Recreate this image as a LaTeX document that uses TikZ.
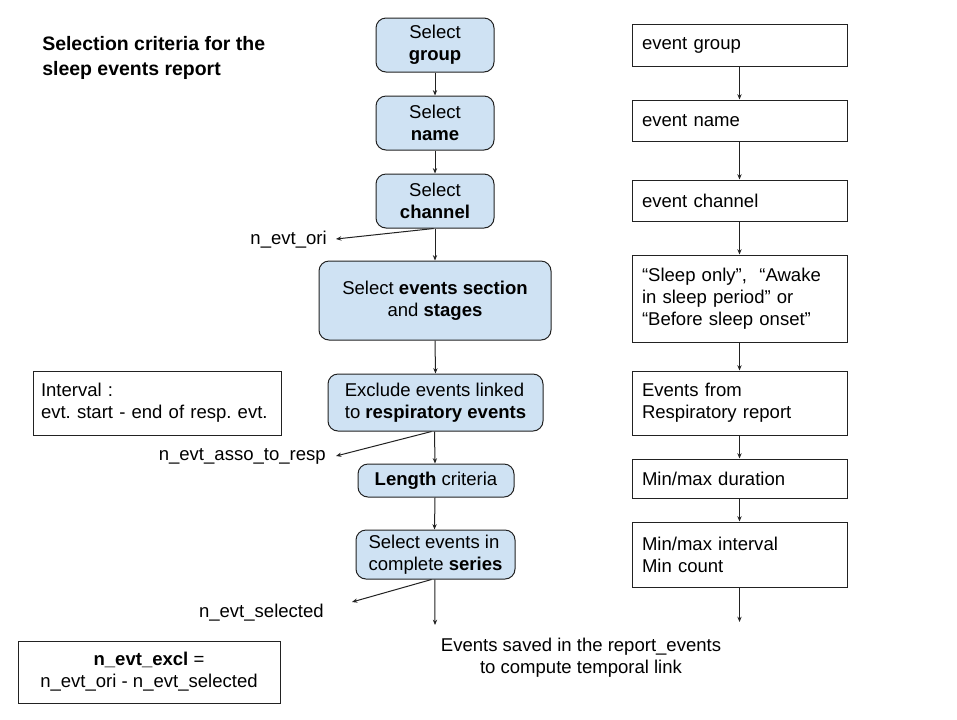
\documentclass[tikz,border=0pt]{standalone}
\usepackage{fontspec}
\setmainfont{Liberation Sans}
\usetikzlibrary{arrows.meta}
\frenchspacing
\definecolor{boxblue}{HTML}{CFE2F3}
\definecolor{lineclr}{HTML}{222222}
\tikzset{
  txt/.style={font=\fontsize{13.9}{16.5}\selectfont, text=black},
  bluebox/.style={txt, draw=lineclr, line width=0.75pt, fill=boxblue, rounded corners=7.5pt, align=center, inner sep=0pt},
  plainbox/.style={txt, draw=lineclr, line width=0.75pt, fill=white, align=left, inner xsep=7.5pt, inner ysep=0pt, text width=146.25pt, minimum width=161.25pt},
  leftbox/.style={txt, draw=lineclr, line width=0.75pt, fill=white, inner sep=0pt},
  arr/.style={draw=lineclr, line width=0.75pt, -{Stealth[length=4pt,width=3.2pt]}},
  lbl/.style={txt, inner sep=0pt}
}
\begin{document}
\begin{tikzpicture}[x=0.75pt,y=-0.75pt]
\useasboundingbox[fill=white] (0,0) rectangle (957,719);
% title
\node[lbl, anchor=west, align=left, font=\fontsize{14.6}{18.75}\selectfont\bfseries] (title) at (42,57.5) {Selection criteria for the\\sleep events report};
% center column
\node[bluebox, minimum width=88.5pt, minimum height=40.5pt] (g) at (435,45) {Select\\\textbf{group}};
\node[bluebox, minimum width=88.5pt, minimum height=40.5pt] (n) at (435,123) {Select\\\textbf{name}};
\node[bluebox, minimum width=88.5pt, minimum height=40.5pt] (c) at (435,201) {Select\\\textbf{channel}};
\node[bluebox, minimum width=174pt, minimum height=59.25pt] (s) at (435,300.5) {Select \textbf{events section}\\and \textbf{stages}};
\node[bluebox, minimum width=161.25pt, minimum height=42.75pt, align=left] (e) at (435.5,402.5) {Exclude events linked\\to \textbf{respiratory events}};
\node[bluebox, minimum width=117pt, minimum height=24.75pt] (l) at (436,480.5) {\textbf{Length} criteria};
\node[bluebox, minimum width=119.25pt, minimum height=36.75pt, align=left] (r) at (435.5,554.5) {Select events in\\complete \textbf{series}};
\coordinate (end) at (435,625);
\node[lbl, align=center] (saved) at (581,658) {Events saved in the report\_events\\to compute temporal link};
% center arrows
\draw[arr] (g.south) -- (n.north);
\draw[arr] (n.south) -- (c.north);
\draw[arr] (c.south) -- (s.north);
\draw[arr] (s.south) -- (e.north);
\draw[arr] ([xshift=-0.75pt]e.south) -- ([xshift=-0.75pt]l.north);
\draw[arr] ([xshift=-0.75pt]l.south) -- ([xshift=-0.75pt]r.north);
\draw[arr] ([xshift=-0.5pt]r.south) -- (end);
% side labels
\node[lbl, anchor=east] (ori) at (327,240) {n\_evt\_ori};
\node[lbl, anchor=east] (asso) at (326,456) {n\_evt\_asso\_to\_resp};
\node[lbl, anchor=east] (sel) at (324,613) {n\_evt\_selected};
\coordinate (oriT) at (336,239);
\coordinate (assoT) at (336,456);
\coordinate (selT) at (352,602);
\draw[arr] ([xshift=-1pt]c.south) -- (oriT);
\draw[arr] ([xshift=-3pt]e.south) -- (assoT);
\draw[arr] ([xshift=-3pt]r.south) -- (selT);
% left boxes
\node[leftbox, minimum width=186pt, minimum height=48pt, align=left, text width=174pt, inner xsep=6pt] (iv) at (157,403) {Interval :\\evt. start - end of resp. evt.};
\node[leftbox, minimum width=196.5pt, minimum height=46.5pt, align=center] (ex) at (149,672) {\textbf{n\_evt\_excl} =\\n\_evt\_ori - n\_evt\_selected};
% right column
\node[plainbox, minimum height=31.5pt] (rg) at (739.5,45) {event group};
\node[plainbox, minimum height=30.75pt] (rn) at (739.5,120.5) {event name};
\node[plainbox, minimum height=30.75pt] (rc) at (739.5,200.5) {event channel};
\node[plainbox, minimum height=65.25pt] (rs) at (739.5,298.5) {``Sleep only'',\ \ ``Awake\\in sleep period'' or\\``Before sleep onset''};
\node[plainbox, minimum height=48pt] (rr) at (739.5,403) {Events from\\Respiratory report};
\node[plainbox, minimum height=29.25pt] (rd) at (739.5,478.5) {Min/max duration};
\node[plainbox, minimum height=48.75pt] (ri) at (739.5,554.5) {Min/max interval\\Min count};
\coordinate (rend) at (739.5,622);
\draw[arr] (rg.south) -- (rn.north);
\draw[arr] (rn.south) -- (rc.north);
\draw[arr] (rc.south) -- (rs.north);
\draw[arr] (rs.south) -- (rr.north);
\draw[arr] (rr.south) -- (rd.north);
\draw[arr] (rd.south) -- (ri.north);
\draw[arr] (ri.south) -- (rend);
\end{tikzpicture}
\end{document}
